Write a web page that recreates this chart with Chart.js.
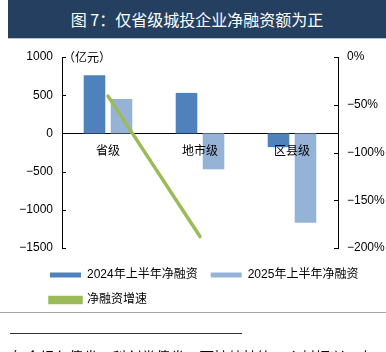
<!DOCTYPE html>
<html>
<head>
<meta charset="utf-8">
<script src="https://cdn.jsdelivr.net/npm/chart.js@4.4.1/dist/chart.umd.min.js"></script>
<style>
  html, body { margin: 0; padding: 0; background: #fff; }
  body { width: 386px; height: 352px; position: relative; overflow: hidden; font-family: "Noto Sans CJK SC", sans-serif; }
  #title { position: absolute; left: 8px; top: 0; width: 378px; height: 38px; background: #243F60; color: #fff;
           font-size: 16px; line-height: 38px; text-align: center; border-bottom: 1px solid #B8C2D2; }
  #wrap { position: absolute; left: 0; top: 0; width: 386px; height: 352px; }
  .rule { position: absolute; height: 1px; }
  #note { position: absolute; left: 3px; top: 350px; font-size: 14.5px; line-height: 1; white-space: nowrap; color: #000; }
</style>
</head>
<body>
<div id="wrap"><canvas id="chart" width="386" height="352"></canvas></div>
<div id="title">图 7：仅省级城投企业净融资额为正</div>
<div class="rule" style="left:0;top:312px;width:386px;background:#A6A6A6"></div>
<div class="rule" style="left:10px;top:333px;width:232px;background:#333"></div>
<div id="note">4包含绿色债券、科创类债券、可持续挂钩、乡村振兴、专</div>
<script>
// 各级城投企业净融资（亿元）与净融资增速（%）
const categories = ['省级', '地市级', '区县级'];
const net_2024 = [760, 530, -180];
const net_2025 = [450, -470, -1170];
const net_growth = [-41, -188, null];
const series_names = ['2024年上半年净融资', '2025年上半年净融资', '净融资增速'];

const FONT = '"Liberation Sans", "Noto Sans CJK SC", sans-serif';
const CJK = '"Noto Sans CJK SC", sans-serif';
const minus = v => (v < 0 ? '\u2212' + Math.abs(v) : String(v));

// inward tick marks, unit label, and legend nudged to line up under the plot
const axis_extras = {
    id: 'axis_extras',
    afterLayout(chart) {
        chart.legend.left = 37;
    },
    afterDraw(chart) {
        const ctx = chart.ctx;
        ctx.save();
        ctx.strokeStyle = '#000';
        ctx.lineWidth = 1;
        [['y', 1], ['y1', -1]].forEach(([id, dir]) => {
            const s = chart.scales[id];
            const x = id === 'y' ? s.right : s.left;
            s.ticks.forEach(t => {
                const py = Math.round(s.getPixelForValue(t.value)) + 0.5;
                ctx.beginPath();
                ctx.moveTo(x, py);
                ctx.lineTo(x + dir * 4, py);
                ctx.stroke();
            });
        });
        ctx.fillStyle = '#000';
        ctx.font = '12px ' + CJK;
        ctx.textBaseline = 'middle';
        ctx.fillText('（亿元）', chart.chartArea.left + 1, chart.chartArea.top);
        ctx.restore();
    }
};

new Chart(document.getElementById('chart'), {
    type: 'bar',
    data: {
        labels: categories,
        datasets: [
            { label: series_names[0], data: net_2024, backgroundColor: '#4F81BD', yAxisID: 'y', order: 1,
              categoryPercentage: 0.587, barPercentage: 0.8 },
            { label: series_names[1], data: net_2025, backgroundColor: '#95B3D7', yAxisID: 'y', order: 1,
              categoryPercentage: 0.587, barPercentage: 0.8 },
            { label: series_names[2], data: net_growth, type: 'line', yAxisID: 'y1', order: 0,
              borderColor: '#9BBB59', backgroundColor: '#9BBB59', borderWidth: 3.5, borderCapStyle: 'round',
              pointRadius: 0, spanGaps: false }
        ]
    },
    options: {
        animation: false,
        responsive: false,
        layout: { padding: { left: 0, right: 0, top: 57, bottom: 36 } },
        scales: {
            x: {
                position: { y: 0 },
                grid: { display: false, drawTicks: false },
                border: { display: true, color: '#000', width: 1 },
                ticks: { z: 1, padding: 10, color: '#000', font: { size: 12, family: CJK } }
            },
            y: {
                position: 'left', min: -1500, max: 1000,
                afterFit: s => { s.width = 62; },
                grid: { display: false, drawTicks: false },
                border: { display: true, color: '#000', width: 1 },
                ticks: { stepSize: 500, padding: 9, color: '#000', font: { size: 12, family: FONT }, callback: minus }
            },
            y1: {
                position: 'right', min: -200, max: 0,
                afterFit: s => { s.width = 48; },
                grid: { display: false, drawTicks: false },
                border: { display: true, color: '#000', width: 1 },
                ticks: { stepSize: 50, padding: 9, color: '#000', font: { size: 12, family: FONT },
                         callback: v => minus(v) + '%' }
            }
        },
        plugins: {
            legend: {
                position: 'bottom', align: 'start',
                title: { display: true, text: ' ', padding: 0, font: { size: 1, lineHeight: '8px' } },
                labels: { boxWidth: 31, boxHeight: 5, padding: 13, color: '#000', font: { size: 12, family: FONT },
                          sort: (a, b) => a.datasetIndex - b.datasetIndex }
            },
            tooltip: { enabled: false }
        }
    },
    plugins: [axis_extras]
});
</script>
</body>
</html>
